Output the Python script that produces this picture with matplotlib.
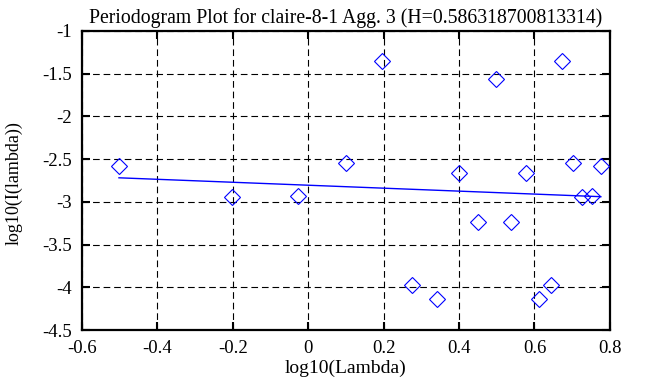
import matplotlib
matplotlib.use('Agg')
import matplotlib.pyplot as plt
from matplotlib.ticker import FuncFormatter

plt.rcParams['font.family'] = ['Liberation Serif', 'DejaVu Serif']
plt.rcParams['axes.unicode_minus'] = False

# periodogram points (log10 lambda, log10 I(lambda))
log_lambda = [-0.502, -0.201, -0.026, 0.099, 0.196, 0.275, 0.342, 0.400, 0.451, 0.497,
              0.539, 0.577, 0.611, 0.643, 0.673, 0.701, 0.727, 0.752, 0.776]
log_power = [-2.577, -2.940, -2.932, -2.542, -1.355, -3.978, -4.138, -2.663, -3.237, -1.558,
             -3.237, -2.659, -4.138, -3.978, -1.355, -2.542, -2.940, -2.932, -2.577]

# least squares fit line ends
fit_x = [-0.502, 0.776]
fit_y = [-2.718, -2.939]

x_ticks = [-0.6, -0.4, -0.2, 0, 0.2, 0.4, 0.6, 0.8]
y_ticks = [-4.5, -4, -3.5, -3, -2.5, -2, -1.5, -1]

fig = plt.figure(figsize=(6.53, 3.87), dpi=100)
ax = fig.add_axes([0.1256, 0.147, 0.8084, 0.773])

ax.plot(log_lambda, log_power, linestyle='none', marker='D', markersize=7.8,
        markerfacecolor='none', markeredgecolor='#0000ff', markeredgewidth=0.8, zorder=3)
ax.plot(fit_x, fit_y, color='#0000ff', linewidth=1.0, zorder=2)

ax.set_xlim(-0.6, 0.8)
ax.set_ylim(-4.5, -1)
ax.set_xticks(x_ticks)
ax.set_yticks(y_ticks)
ax.xaxis.set_major_formatter(FuncFormatter(lambda v, _: f'{v:g}'))
ax.yaxis.set_major_formatter(FuncFormatter(lambda v, _: f'{v:g}'))

ax.grid(True, color='black', linestyle=(0, (6, 3.5)), linewidth=0.8)
ax.tick_params(direction='in', length=6, width=1.5, top=True, right=True,
               labelsize=13.5)
ax.tick_params(axis='y', pad=7.5)
ax.tick_params(axis='x', pad=7)
for s in ax.spines.values():
    s.set_linewidth(1.6)

ax.set_title('Periodogram Plot for claire-8-1 Agg. 3 (H=0.586318700813314)',
             fontsize=14.2, pad=6)
ax.set_xlabel('log10(Lambda)', fontsize=14)
ax.set_ylabel('log10(I(lambda))', fontsize=13)
ax.xaxis.set_label_coords(0.5, -0.10)
ax.yaxis.set_label_coords(-0.112, 0.49)

plt.savefig('out.png', dpi=100, facecolor='white')
